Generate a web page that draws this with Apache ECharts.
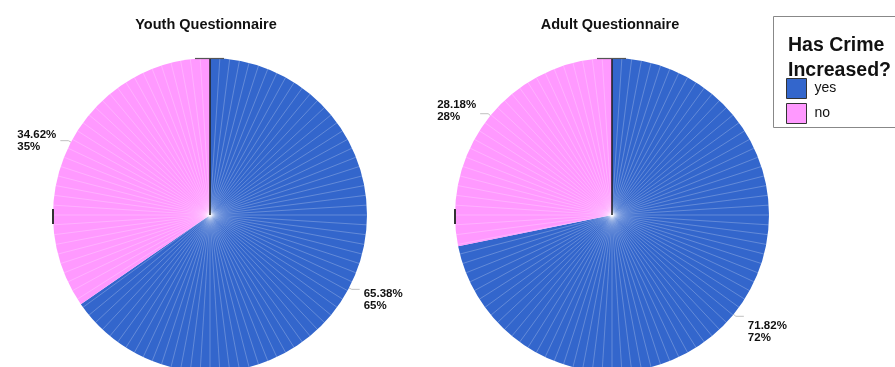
<!DOCTYPE html>
<html>
<head>
<meta charset="utf-8">
<title>Has Crime Increased?</title>
<script src="https://cdn.jsdelivr.net/npm/echarts@6/dist/echarts.min.js"></script>
<style>
  html, body { margin: 0; padding: 0; background: #fff; }
  #chart { width: 895px; height: 367px; }
</style>
</head>
<body>
<div id="chart"></div>
<script>
// Survey answers, in percent of respondents
const groups = ['Youth Questionnaire', 'Adult Questionnaire'];
const answers = ['yes', 'no'];
const youthPct = [65.38, 34.62];
const adultPct = [71.82, 28.18];
const legendTitle = 'Has Crime\nIncreased?';

const answerColors = { yes: '#3366CC', no: '#FF99FF' };
const FONT = "'Liberation Sans', Arial, sans-serif";

// Pie geometry (px)
const pies = [
  { cx: 210, cy: 215, r: 157, values: youthPct,
    labels: { yes: { pad: [20, 0, 0, 0] }, no: { pad: [0, 0, 0, 0] } } },
  { cx: 612, cy: 215, r: 157, values: adultPct,
    labels: { yes: { pad: [31, 0, 0, 0] }, no: { pad: [0, 0, 6, 0] } } }
];

function labelText(p) {
  return '{p|' + p.value.toFixed(2) + '%}\n{p|' + Math.round(p.value) + '%}';
}

const series = pies.map((pie, i) => ({
  type: 'pie',
  name: groups[i],
  center: [pie.cx, pie.cy],
  radius: pie.r,
  startAngle: 90,
  clockwise: true,
  z: 2,
  silent: true,
  animation: false,
  emphasis: { disabled: true },
  label: {
    show: true,
    position: 'outside',
    formatter: labelText,
    distanceToLabelLine: 4,
    rich: {
      p: { fontFamily: FONT, fontWeight: 'bold', fontSize: 11.5,
           lineHeight: 12, color: '#111', align: 'left' }
    }
  },
  labelLine: {
    show: true, length: 3, length2: 8, smooth: false,
    lineStyle: { color: '#c0c0c0', width: 1 }
  },
  data: answers.map((a, k) => ({
    name: a,
    value: pie.values[k],
    itemStyle: { color: answerColors[a] },
    label: { padding: pie.labels[a].pad }
  }))
}));

// Faceted rendering seams drawn as angle-axis split lines over each pie
const polar = pies.map(pie => ({ center: [pie.cx, pie.cy], radius: pie.r }));
const angleAxis = pies.map((pie, i) => ({
  polarIndex: i, type: 'value', min: 0, max: 360, interval: 3.6,
  startAngle: 90, z: 3, silent: true,
  axisLine: { show: false }, axisTick: { show: false }, axisLabel: { show: false },
  splitLine: { show: true, lineStyle: { color: 'rgba(255,255,255,0.4)', width: 0.6 } }
}));
const radiusAxis = pies.map((pie, i) => ({
  polarIndex: i, type: 'value', min: 0, max: 1, show: false,
  axisLine: { show: false }, splitLine: { show: false }
}));

// Divider at twelve o'clock plus small frame marks on each pie
const graphic = [];
pies.forEach(pie => {
  graphic.push({ type: 'line', z: 10, silent: true,
    shape: { x1: pie.cx, y1: pie.cy - pie.r, x2: pie.cx, y2: pie.cy },
    style: { stroke: '#1a1a1a', lineWidth: 1.5 } });
  graphic.push({ type: 'line', z: 10, silent: true,
    shape: { x1: pie.cx - 15, y1: pie.cy - pie.r + 0.5, x2: pie.cx + 14, y2: pie.cy - pie.r + 0.5 },
    style: { stroke: '#555', lineWidth: 1.2 } });
  graphic.push({ type: 'line', z: 10, silent: true,
    shape: { x1: pie.cx - pie.r, y1: pie.cy - 6, x2: pie.cx - pie.r, y2: pie.cy + 9 },
    style: { stroke: '#333', lineWidth: 2 } });
});
// Legend frame
graphic.push({ type: 'rect', z: 1, silent: true,
  shape: { x: 773.5, y: 16.5, width: 140, height: 111 },
  style: { fill: '#fff', stroke: '#888', lineWidth: 1 } });

const option = {
  backgroundColor: '#fff',
  animation: false,
  title: [
    { text: groups[0], left: 206, top: 17, textAlign: 'center', padding: 0,
      textStyle: { fontFamily: FONT, fontWeight: 'bold', fontSize: 14.5, color: '#111' } },
    { text: groups[1], left: 610, top: 17, textAlign: 'center', padding: 0,
      textStyle: { fontFamily: FONT, fontWeight: 'bold', fontSize: 14.5, color: '#111' } },
    { text: legendTitle, left: 788, top: 33, padding: 0, z: 5,
      textStyle: { fontFamily: FONT, fontWeight: 'bold', fontSize: 19.5, lineHeight: 25, color: '#111' } }
  ],
  legend: {
    data: answers,
    orient: 'vertical',
    left: 786, top: 78,
    padding: 0,
    itemWidth: 20, itemHeight: 20, itemGap: 4,
    icon: 'rect',
    z: 4,
    selectedMode: false,
    itemStyle: { borderColor: '#333', borderWidth: 1 },
    textStyle: { fontFamily: FONT, fontSize: 14, color: '#111', padding: [0, 0, 0, 3] }
  },
  polar: polar,
  angleAxis: angleAxis,
  radiusAxis: radiusAxis,
  graphic: graphic,
  series: series
};

const chart = echarts.init(document.getElementById('chart'), null, { renderer: 'canvas' });
chart.setOption(option);
</script>
</body>
</html>
